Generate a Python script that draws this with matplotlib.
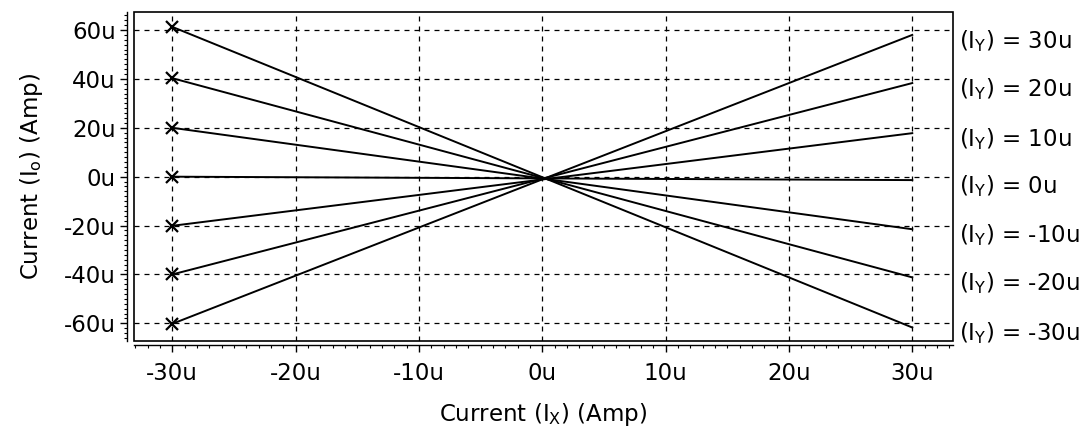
import matplotlib
matplotlib.use('Agg')
from matplotlib import pyplot as plt
from matplotlib.patches import Rectangle
from matplotlib.ticker import MultipleLocator, FuncFormatter

# multiplier sweep: output current vs I_X for several I_Y (values in uA)
iy_values = [30, 20, 10, 0, -10, -20, -30]
ix_ends = [-30, 30]
io_at_left = [-60.2, -40.0, -20.1, 0.0, 20.0, 40.3, 61.3]
io_at_right = [58.0, 38.3, 17.8, -1.4, -21.5, -41.2, -61.7]
x_ticks = [-30, -20, -10, 0, 10, 20, 30]
y_ticks = [-60, -40, -20, 0, 20, 40, 60]

plt.rcParams['font.family'] = ['DejaVu Sans']
plt.rcParams['mathtext.default'] = 'regular'
fs = 16.5

fig = plt.figure(figsize=(10.86, 4.3), dpi=100)
ax = fig.add_axes([0.1234, 0.2077, 0.7541, 0.7651])

for iy, y0, y1 in zip(iy_values, io_at_left, io_at_right):
    ax.plot(ix_ends, [y0, y1], color='black', lw=1.4, zorder=3)
    ax.plot(ix_ends[0], y0, marker='x', ms=8.5, mew=1.6, color='black', zorder=4)
    ax.annotate(f'(I$_Y$) = {iy}u', xy=(1.0, y1), xycoords=ax.get_yaxis_transform(),
                xytext=(4, -2), textcoords='offset points',
                ha='left', va='center_baseline', fontsize=fs, annotation_clip=False)

ax.set_xlim(-33.1, 33.3)
ax.set_ylim(-67.1, 67.5)
ax.set_xticks(x_ticks)
ax.set_yticks(y_ticks)
ax.xaxis.set_minor_locator(MultipleLocator(1))
ax.yaxis.set_minor_locator(MultipleLocator(2))
fmt = FuncFormatter(lambda v, p: f'{v:.0f}u')
ax.xaxis.set_major_formatter(fmt)
ax.yaxis.set_major_formatter(fmt)

ax.grid(True, which='major', color='black', lw=0.9, linestyle=(0, (4, 4)))

# detached axis lines, plot frame drawn separately
for s in ['top', 'right']:
    ax.spines[s].set_visible(False)
ax.spines['left'].set_position(('outward', 5))
ax.spines['bottom'].set_position(('outward', 3.2))
ax.spines['left'].set_linewidth(1.0)
ax.spines['bottom'].set_linewidth(1.0)
ax.add_patch(Rectangle((0, 0), 1, 1, transform=ax.transAxes, fill=False,
                       lw=1.2, edgecolor='black', clip_on=False, zorder=5))

ax.tick_params(which='major', direction='out', length=5, width=1.0, labelsize=fs)
ax.tick_params(which='minor', direction='out', length=2.5, width=0.8)
ax.tick_params(axis='y', which='major', pad=3)
ax.tick_params(axis='x', which='major', pad=7)

ax.set_xlabel('Current (I$_X$) (Amp)', fontsize=fs, labelpad=12)
ax.set_ylabel('Current (I$_o$) (Amp)', fontsize=fs, labelpad=14)

fig.savefig('out.png', dpi=100)
